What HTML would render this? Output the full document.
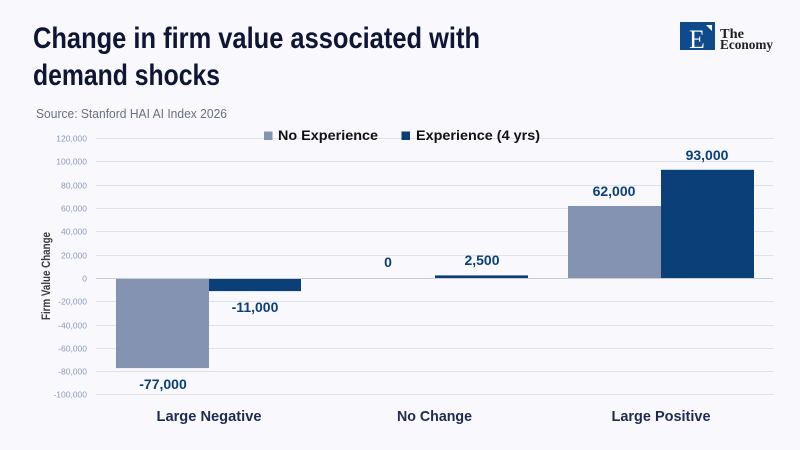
<!DOCTYPE html>
<html>
<head>
<meta charset="utf-8">
<style>
  html,body{margin:0;padding:0;background:#f8f8fd;}
  svg{display:block;}
</style>
</head>
<body>
<svg width="800" height="450" viewBox="0 0 800 450" xmlns="http://www.w3.org/2000/svg">
  <rect x="0" y="0" width="800" height="450" fill="#f8f8fd"/>

  <!-- Title -->
  <text x="33" y="48" font-family="Liberation Sans, sans-serif" font-weight="bold" font-size="30" fill="#0f1535" textLength="447" lengthAdjust="spacingAndGlyphs">Change in firm value associated with</text>
  <text x="33" y="85" font-family="Liberation Sans, sans-serif" font-weight="bold" font-size="30" fill="#0f1535" textLength="187" lengthAdjust="spacingAndGlyphs">demand shocks</text>

  <!-- Source -->
  <text x="36" y="118" font-family="Liberation Sans, sans-serif" font-size="13" fill="#6a6f80" textLength="191" lengthAdjust="spacingAndGlyphs">Source: Stanford HAI AI Index 2026</text>

  <!-- Logo -->
  <rect x="680" y="22" width="35" height="28" fill="#0e4a8c"/>
  <text x="697" y="48" text-anchor="middle" font-family="Liberation Serif, serif" font-size="26" fill="#ffffff">E</text>
  <polygon points="706,25 712,25 712,31" fill="#ffffff"/>
  <text x="720" y="38" font-family="Liberation Serif, serif" font-size="14" font-weight="bold" fill="#222" textLength="24" lengthAdjust="spacingAndGlyphs">The</text>
  <text x="720" y="49" font-family="Liberation Serif, serif" font-size="14" font-weight="bold" fill="#222" textLength="53" lengthAdjust="spacingAndGlyphs">Economy</text>

  <!-- Gridlines -->
  <g stroke="#dfe2ea" stroke-width="1">
    <line x1="96" y1="138.5" x2="773" y2="138.5"/>
    <line x1="96" y1="161.5" x2="773" y2="161.5"/>
    <line x1="96" y1="185.5" x2="773" y2="185.5"/>
    <line x1="96" y1="208.5" x2="773" y2="208.5"/>
    <line x1="96" y1="231.5" x2="773" y2="231.5"/>
    <line x1="96" y1="255.5" x2="773" y2="255.5"/>
    <line x1="96" y1="301.5" x2="773" y2="301.5"/>
    <line x1="96" y1="325.5" x2="773" y2="325.5"/>
    <line x1="96" y1="348.5" x2="773" y2="348.5"/>
    <line x1="96" y1="371.5" x2="773" y2="371.5"/>
    <line x1="96" y1="394.5" x2="773" y2="394.5"/>
  </g>

  <!-- Y tick labels -->
  <g font-family="Liberation Sans, sans-serif" font-size="8.5" fill="#8d9bb8" text-anchor="end">
    <text x="87" y="141.5">120,000</text>
    <text x="87" y="164.5">100,000</text>
    <text x="87" y="188.5">80,000</text>
    <text x="87" y="211.5">60,000</text>
    <text x="87" y="234.5">40,000</text>
    <text x="87" y="258.5">20,000</text>
    <text x="87" y="281.5">0</text>
    <text x="87" y="304.5">-20,000</text>
    <text x="87" y="328.5">-40,000</text>
    <text x="87" y="351.5">-60,000</text>
    <text x="87" y="374.5">-80,000</text>
    <text x="87" y="397.5">-100,000</text>
  </g>

  <!-- Y axis title -->
  <text transform="translate(50,276) rotate(-90)" text-anchor="middle" font-family="Liberation Sans, sans-serif" font-weight="bold" font-size="12" fill="#3c3c3c" textLength="88" lengthAdjust="spacingAndGlyphs">Firm Value Change</text>

  <!-- Bars -->
  <rect x="116" y="278.3" width="93" height="89.8" fill="#8493b2"/>
  <rect x="209" y="278.3" width="92" height="12.8" fill="#0b3f78"/>
  <rect x="435" y="275.4" width="93" height="2.9" fill="#0b3f78"/>
  <rect x="568" y="206" width="93" height="72.3" fill="#8493b2"/>
  <rect x="661" y="169.8" width="93" height="108.5" fill="#0b3f78"/>

  <!-- Zero line -->
  <line x1="96" y1="278.5" x2="773" y2="278.5" stroke="#c9cdd7" stroke-width="1"/>

  <!-- Data labels -->
  <g font-family="Liberation Sans, sans-serif" font-weight="bold" font-size="14" fill="#0b3f78" text-anchor="middle">
    <text x="163" y="389">-77,000</text>
    <text x="255" y="312">-11,000</text>
    <text x="388" y="267">0</text>
    <text x="482" y="265">2,500</text>
    <text x="614" y="196">62,000</text>
    <text x="707" y="160">93,000</text>
  </g>

  <!-- Category labels -->
  <g font-family="Liberation Sans, sans-serif" font-weight="bold" font-size="15" fill="#1f2a4f" text-anchor="middle">
    <text x="209" y="421" textLength="105" lengthAdjust="spacingAndGlyphs">Large Negative</text>
    <text x="434.5" y="421" textLength="75" lengthAdjust="spacingAndGlyphs">No Change</text>
    <text x="661" y="421" textLength="99" lengthAdjust="spacingAndGlyphs">Large Positive</text>
  </g>

  <!-- Legend -->
  <rect x="264" y="131.5" width="8.5" height="8.5" fill="#8493b2"/>
  <text x="278" y="140" font-family="Liberation Sans, sans-serif" font-weight="bold" font-size="14" fill="#111" textLength="100" lengthAdjust="spacingAndGlyphs">No Experience</text>
  <rect x="401.5" y="131.5" width="8.5" height="8.5" fill="#0b3f78"/>
  <text x="416" y="140" font-family="Liberation Sans, sans-serif" font-weight="bold" font-size="14" fill="#111" textLength="124" lengthAdjust="spacingAndGlyphs">Experience (4 yrs)</text>
</svg>
</body>
</html>
